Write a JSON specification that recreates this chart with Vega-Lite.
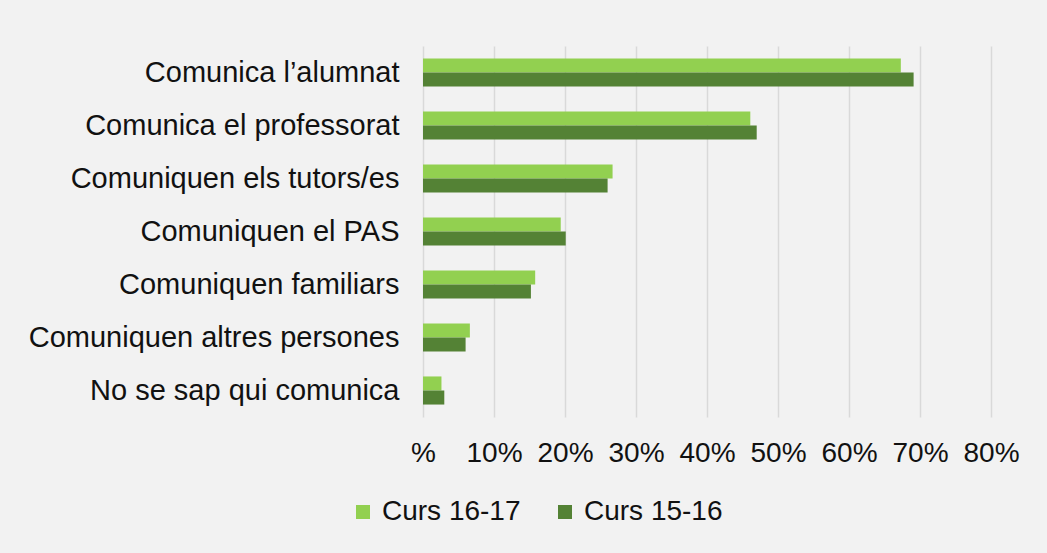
{
  "$schema": "https://vega.github.io/schema/vega-lite/v6.json",
  "width": 568,
  "height": 371,
  "autosize": "none",
  "padding": {"left": 423, "top": 46, "right": 56, "bottom": 136},
  "background": "#f2f2f2",
  "config": {
    "view": {"stroke": null},
    "font": "Liberation Sans"
  },
  "data": {
    "values": [
      {"cat": "Comunica l’alumnat", "curs": "Curs 16-17", "v": 0.673},
      {"cat": "Comunica l’alumnat", "curs": "Curs 15-16", "v": 0.691},
      {"cat": "Comunica el professorat", "curs": "Curs 16-17", "v": 0.461},
      {"cat": "Comunica el professorat", "curs": "Curs 15-16", "v": 0.470},
      {"cat": "Comuniquen els tutors/es", "curs": "Curs 16-17", "v": 0.267},
      {"cat": "Comuniquen els tutors/es", "curs": "Curs 15-16", "v": 0.260},
      {"cat": "Comuniquen el PAS", "curs": "Curs 16-17", "v": 0.194},
      {"cat": "Comuniquen el PAS", "curs": "Curs 15-16", "v": 0.201},
      {"cat": "Comuniquen familiars", "curs": "Curs 16-17", "v": 0.158},
      {"cat": "Comuniquen familiars", "curs": "Curs 15-16", "v": 0.152},
      {"cat": "Comuniquen altres persones", "curs": "Curs 16-17", "v": 0.066},
      {"cat": "Comuniquen altres persones", "curs": "Curs 15-16", "v": 0.060},
      {"cat": "No se sap qui comunica", "curs": "Curs 16-17", "v": 0.026},
      {"cat": "No se sap qui comunica", "curs": "Curs 15-16", "v": 0.030}
    ]
  },
  "mark": {"type": "bar"},
  "encoding": {
    "y": {
      "field": "cat",
      "type": "nominal",
      "sort": null,
      "title": null,
      "scale": {"paddingInner": 0.47, "paddingOuter": 0.235},
      "axis": {
        "domain": false,
        "ticks": false,
        "grid": false,
        "labelFontSize": 29,
        "labelColor": "#111111",
        "labelPadding": 24,
        "labelLimit": 500
      }
    },
    "yOffset": {
      "field": "curs",
      "type": "nominal",
      "sort": ["Curs 16-17", "Curs 15-16"],
      "scale": {"paddingInner": 0, "paddingOuter": 0}
    },
    "x": {
      "field": "v",
      "type": "quantitative",
      "title": null,
      "scale": {"domain": [0, 0.8]},
      "axis": {
        "values": [0, 0.1, 0.2, 0.3, 0.4, 0.5, 0.6, 0.7, 0.8],
        "format": ".0%",
        "labelExpr": "datum.value == 0 ? '%' : datum.label",
        "domain": false,
        "ticks": false,
        "grid": true,
        "gridColor": "#d9d9d9",
        "gridWidth": 1.5,
        "labelFontSize": 28,
        "labelColor": "#111111",
        "labelPadding": 22,
        "labelFlush": false
      }
    },
    "color": {
      "field": "curs",
      "type": "nominal",
      "scale": {"domain": ["Curs 16-17", "Curs 15-16"], "range": ["#92d050", "#548235"]},
      "legend": {
        "title": null,
        "orient": "none",
        "direction": "horizontal",
        "legendX": -74,
        "legendY": 452,
        "symbolType": "square",
        "symbolSize": 196,
        "symbolStrokeWidth": 0,
        "labelFontSize": 28,
        "labelColor": "#111111",
        "labelOffset": 5,
        "columnPadding": 30,
        "labelLimit": 300
      }
    }
  }
}
